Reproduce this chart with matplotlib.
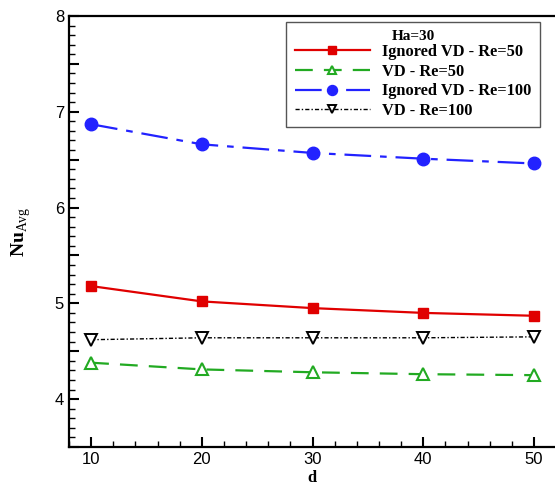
import matplotlib
matplotlib.use("Agg")
import matplotlib.pyplot as plt
from matplotlib.ticker import MultipleLocator, FixedLocator, FuncFormatter

d = [10, 20, 30, 40, 50]
ignored_vd_re50 = [5.18, 5.02, 4.95, 4.90, 4.87]
vd_re50 = [4.38, 4.31, 4.28, 4.26, 4.25]
ignored_vd_re100 = [6.87, 6.66, 6.57, 6.51, 6.46]
vd_re100 = [4.62, 4.64, 4.64, 4.64, 4.65]

plt.rcParams["mathtext.fontset"] = "custom"
plt.rcParams["mathtext.rm"] = "Liberation Serif"
plt.rcParams["mathtext.bf"] = "Liberation Serif:bold"

fig = plt.figure(figsize=(5.55, 4.92), dpi=100)
ax = fig.add_axes([0.1243, 0.0915, 0.8757, 0.876])

ax.plot(d, ignored_vd_re50, color="#e00000", lw=1.6, ls="-",
        marker="s", ms=7, mfc="#e00000", mec="#e00000",
        label="Ignored VD - Re=50")
ax.plot(d, vd_re50, color="#22aa22", lw=1.6, ls=(0, (8, 5)),
        marker="^", ms=8, mfc="white", mec="#22aa22", mew=1.5,
        label="VD - Re=50")
ax.plot(d, ignored_vd_re100, color="#2222ff", lw=1.6, ls=(0, (12, 4, 3, 4)),
        marker="o", ms=9, mfc="#2222ff", mec="#2222ff",
        label="Ignored VD - Re=100")
ax.plot(d, vd_re100, color="black", lw=1.0, ls=(0, (3, 1.5, 1, 1.5)),
        marker="v", ms=8, mfc="white", mec="black", mew=1.4,
        label="VD - Re=100")

ax.set_xlim(8, 51.9)
ax.set_ylim(3.5, 8)

ax.xaxis.set_major_locator(FixedLocator(d))
ax.xaxis.set_minor_locator(MultipleLocator(2))
ax.yaxis.set_major_locator(MultipleLocator(0.5))
ax.yaxis.set_minor_locator(MultipleLocator(0.1))
ax.yaxis.set_major_formatter(
    FuncFormatter(lambda v, p: f"{v:.0f}" if abs(v - round(v)) < 1e-6 else ""))

ax.tick_params(which="major", direction="in", length=7, width=1.5,
               labelsize=12, top=False, right=False)
ax.tick_params(which="minor", direction="in", length=4, width=1.0,
               top=False, right=False)
for lab in ax.get_xticklabels() + ax.get_yticklabels():
    lab.set_fontfamily("Liberation Sans")

for side in ("left", "bottom", "top"):
    ax.spines[side].set_linewidth(1.6)
ax.spines["right"].set_visible(False)

ax.set_xlabel("d", fontfamily="Liberation Serif", fontweight="bold",
              fontsize=12, labelpad=2)
ax.set_ylabel(r"$\mathbf{Nu}_{\mathrm{Avg}}$", fontsize=14, labelpad=16)

leg = ax.legend(loc="upper right", bbox_to_anchor=(0.969, 0.987),
                title="Ha=30", frameon=True, fancybox=False,
                edgecolor="#555555", framealpha=1,
                prop={"family": "Liberation Serif", "weight": "bold", "size": 11.8},
                handlelength=4.6, handletextpad=0.75, labelspacing=0.22,
                borderpad=0.5, borderaxespad=0, markerscale=0.8)
leg.get_title().set_fontfamily("Liberation Serif")
leg.get_title().set_fontweight("bold")
leg.get_title().set_fontsize(11)
leg.get_frame().set_linewidth(1.0)
leg._legend_box.sep = 1

fig.savefig("out.png", dpi=100)
